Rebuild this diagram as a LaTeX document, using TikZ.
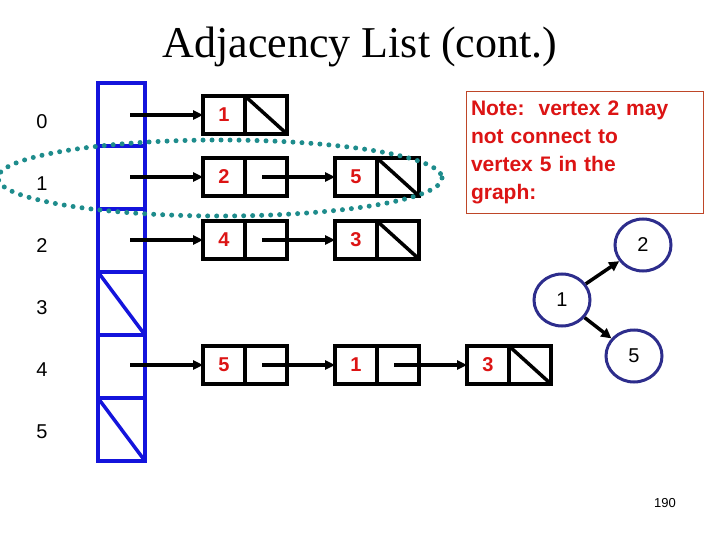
\documentclass[tikz,border=0pt]{standalone}
\usepackage{fontspec}
\setmainfont{Liberation Serif}
\newfontfamily\lsans{Liberation Sans}
\usetikzlibrary{arrows.meta,shapes.geometric}
\definecolor{arrblue}{RGB}{20,20,220}
\definecolor{numred}{RGB}{220,20,20}
\definecolor{teal2}{RGB}{30,140,140}
\definecolor{navy}{RGB}{45,45,140}
\definecolor{notebrd}{RGB}{190,70,40}
\begin{document}
\begin{tikzpicture}[x=1pt,y=-1pt,
  cell/.style={draw=arrblue,line width=3.5pt},
  box/.style={draw=black,line width=3.5pt},
  lbl/.style={font=\lsans\fontsize{20}{22}\selectfont},
  num/.style={font=\lsans\bfseries\fontsize{20}{22}\selectfont,text=numred},
  ptr/.style={line width=3.5pt,-{Triangle[length=10pt,width=9pt]}},
  vtx/.style={draw=navy,line width=3pt,ellipse,minimum width=56pt,minimum height=52pt,font=\lsans\fontsize{20}{22}\selectfont},
  garrow/.style={line width=3.5pt,-{Triangle[length=10pt,width=10pt]}}]
\useasboundingbox (0,0) rectangle (720,540);
\node[font=\fontsize{44}{48}\selectfont] (title) at (360,47) {Adjacency List (cont.)};
% array
\foreach \i in {0,...,5}{
  \draw[cell] (98,{83+63*\i}) rectangle (145,{146+63*\i});
  \node[lbl] (r\i) at (42,{122+62*\i}) {\i};
}
\draw[cell] (98,272) -- (145,335);
\draw[cell] (98,398) -- (145,461);
% list node macro
\newcommand{\lnode}[4]{% name, x, y, label
  \draw[box] (#2,#3) rectangle ++(84,38);
  \draw[box] ({#2+42},#3) -- ++(0,38);
  \node[num] (#1) at ({#2+21},{#3+19}) {#4};
  \coordinate (#1in) at (#2,{#3+19});
  \coordinate (#1out) at ({#2+59},{#3+19});
}
\newcommand{\lnull}[2]{\draw[box] ({#1+42},#2) -- ++(42,38);}
\lnode{a1}{203}{96}{1}\lnull{203}{96}
\lnode{b1}{203}{158}{2}\lnode{b2}{335}{158}{5}\lnull{335}{158}
\lnode{c1}{203}{221}{4}\lnode{c2}{335}{221}{3}\lnull{335}{221}
\lnode{d1}{203}{346}{5}\lnode{d2}{335}{346}{1}\lnode{d3}{467}{346}{3}\lnull{467}{346}
\coordinate (s0) at (130,115);
\coordinate (s1) at (130,177);
\coordinate (s2) at (130,240);
\coordinate (s4) at (130,365);
\draw[ptr] (s0) -- (a1in);
\draw[ptr] (s1) -- (b1in);
\draw[ptr] (b1out) -- (b2in);
\draw[ptr] (s2) -- (c1in);
\draw[ptr] (c1out) -- (c2in);
\draw[ptr] (s4) -- (d1in);
\draw[ptr] (d1out) -- (d2in);
\draw[ptr] (d2out) -- (d3in);
% ellipse
\draw[teal2,line width=5pt,dash pattern=on 0pt off 9pt,line cap=round] (220,178) ellipse (222 and 38);
% note
\node[draw=notebrd,line width=1pt,fill=white,anchor=north west,minimum width=237pt,minimum height=122pt,text width=228pt,align=left,inner sep=4pt,
  font=\lsans\bfseries\fontsize{21}{28}\selectfont,text=numred] (note) at (466,91) {Note:\ \ vertex 2 may\\ not connect to\\ vertex 5 in the\\ graph:};
% graph
\node[vtx] (g2) at (643,245) {2};
\node[vtx] (g1) at (562,300) {1};
\node[vtx] (g5) at (634,356) {5};
\draw[garrow] (g1) -- (g2);
\draw[garrow] (g1) -- (g5);
\node[font=\lsans\fontsize{13}{15}\selectfont] (pg) at (665,503) {190};
\end{tikzpicture}
\end{document}
